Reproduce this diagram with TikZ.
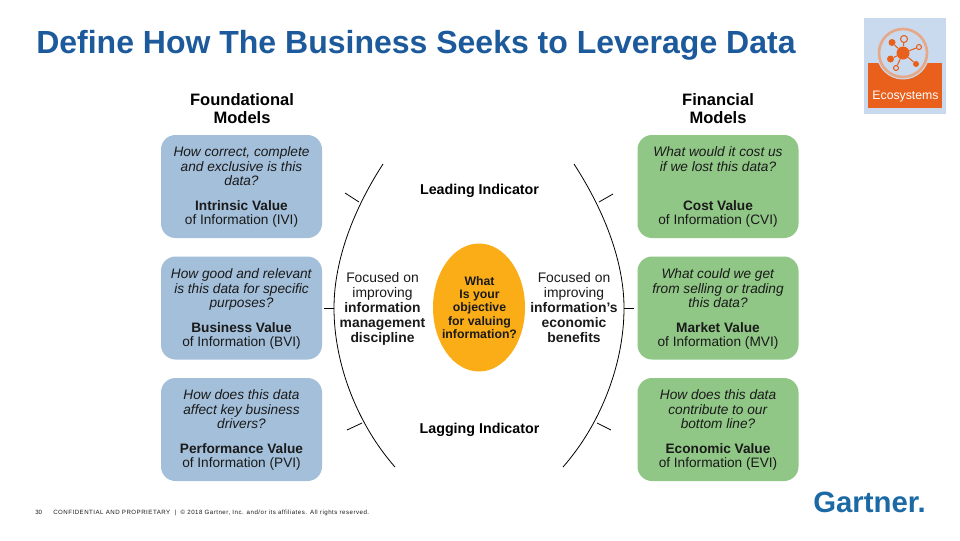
\documentclass[tikz,border=0pt]{standalone}
\usepackage{fontspec}
\usetikzlibrary{shapes.geometric}
\setmainfont{Liberation Sans}
\definecolor{blueb}{HTML}{A3BFDA}
\definecolor{greenb}{HTML}{90C786}
\definecolor{amber}{HTML}{FBAD18}
\definecolor{titleblue}{HTML}{1C5A9C}
\definecolor{logobg}{HTML}{CADAEE}
\definecolor{logoor}{HTML}{E8601C}
\definecolor{logoring}{HTML}{E5A98A}
\definecolor{gblue}{HTML}{1B6AA5}
\definecolor{ink}{HTML}{1A1A1A}
\tikzset{
  valbox/.style={rounded corners=14.5*0.75pt,minimum width=161*0.75pt,minimum height=103*0.75pt,inner sep=0pt,align=center},
  bluebox/.style={valbox,fill=blueb},
  greenbox/.style={valbox,fill=greenb},
  body/.style={font=\fontsize{10.25}{10.9}\selectfont,text=ink,align=center,inner sep=0pt},
  head/.style={font=\fontsize{12.4}{13.5}\selectfont\bfseries,text=black,align=center,inner sep=0pt},
  midtext/.style={font=\fontsize{10.4}{11.25}\selectfont,text=ink,align=center,inner sep=0pt},
  indic/.style={font=\fontsize{10.7}{12}\selectfont\bfseries,text=black,align=center,inner sep=0pt},
  arcline/.style={draw=black,line width=0.6pt},
  tick/.style={draw=black,line width=0.6pt},
  lognode/.style={circle,fill=logoor,inner sep=0pt},
  logring/.style={circle,draw=logoor,fill=logobg,line width=0.8pt,inner sep=0pt},
  logline/.style={draw=logoor,line width=0.8pt},
}
\newcommand{\qa}[1]{\textit{#1}}
\begin{document}
\begin{tikzpicture}[x=0.75pt,y=-0.75pt]
\useasboundingbox (0,0) rectangle (960,540);
\fill[white] (0,0) rectangle (960,540);
% title
\node[anchor=base west,inner sep=0pt,text=titleblue,font=\fontsize{24}{26}\selectfont\bfseries] (title) at (36,53) {Define How The Business Seeks to Leverage Data};
% headers
\node[head] (hl) at (242,109) {Foundational\\Models};
\node[head] (hr) at (718,109) {Financial\\Models};
% left boxes
\node[bluebox] (b1) at (241.5,186.5) {};
\node[bluebox] (b2) at (241.5,308) {};
\node[bluebox] (b3) at (241.5,429.5) {};
\node[greenbox] (g1) at (718,186.5) {};
\node[greenbox] (g2) at (718,308) {};
\node[greenbox] (g3) at (718,429.5) {};
\node[body] (b1q) at (241.5,166.3) {\qa{How correct, complete}\\\qa{and exclusive is this}\\\qa{data?}};
\node[body] (b1v) at (241.5,214) {\textbf{Intrinsic Value}\\of Information (IVI)};
\node[body] (b2q) at (241.5,289.5) {\qa{How good and relevant}\\\qa{is this data for specific}\\\qa{purposes?}};
\node[body] (b2v) at (241.5,336) {\textbf{Business Value}\\of Information (BVI)};
\node[body] (b3q) at (241.5,409.5) {\qa{How does this data}\\\qa{affect key business}\\\qa{drivers?}};
\node[body] (b3v) at (241.5,457) {\textbf{Performance Value}\\of Information (PVI)};
\node[body] (g1q) at (718,159) {\qa{What would it cost us}\\\qa{if we lost this data?}};
\node[body] (g1v) at (718,214) {\textbf{Cost Value}\\of Information (CVI)};
\node[body] (g2q) at (718,288.5) {\qa{What could we get}\\\qa{from selling or trading}\\\qa{this data?}};
\node[body] (g2v) at (718,336) {\textbf{Market Value}\\of Information (MVI)};
\node[body] (g3q) at (718,409.5) {\qa{How does this data}\\\qa{contribute to our}\\\qa{bottom line?}};
\node[body] (g3v) at (718,457) {\textbf{Economic Value}\\of Information (EVI)};
% centre
\node[ellipse,fill=amber,minimum width=92*0.75pt,minimum height=128*0.75pt,inner sep=0pt] (c) at (479,307.5) {};
\node[inner sep=0pt,align=center,text=ink,font=\fontsize{9.2}{10}\selectfont\bfseries] (ct) at (479.5,307.5) {What\\Is your\\objective\\for valuing\\information?};
\node[midtext] (ml) at (382.5,309) {Focused on\\improving\\\textbf{information}\\\textbf{management}\\\textbf{discipline}};
\node[midtext] (mr) at (574,307.5) {Focused on\\improving\\\textbf{information’s}\\\textbf{economic}\\\textbf{benefits}};
\node[indic] (lead) at (479.5,190.5) {Leading Indicator};
\node[indic] (lag) at (479.5,429.5) {Lagging Indicator};
% arcs
\coordinate (la) at (383,164); \coordinate (lm) at (334,308); \coordinate (lb) at (395,467);
\coordinate (ra) at (574,164); \coordinate (rm) at (624,308); \coordinate (rb) at (563,467);
\draw[arcline] (la) .. controls (350,215) and (334,265) .. (lm) .. controls (334,365) and (358,425) .. (lb);
\draw[arcline] (ra) .. controls (607,215) and (624,265) .. (rm) .. controls (624,365) and (600,425) .. (rb);
% ticks
\coordinate (t1a) at (345,193); \coordinate (t1b) at (359,202);
\coordinate (t2a) at (324,308);
\coordinate (t3a) at (347,430); \coordinate (t3b) at (362,423);
\coordinate (t4a) at (613,194); \coordinate (t4b) at (599,202);
\coordinate (t5a) at (634,308);
\coordinate (t6a) at (611,430); \coordinate (t6b) at (597,423);
\draw[tick] (t1a)--(t1b); \draw[tick] (t2a)--(lm); \draw[tick] (t3a)--(t3b);
\draw[tick] (t4a)--(t4b); \draw[tick] (t5a)--(rm); \draw[tick] (t6a)--(t6b);
% footer
\node[anchor=base west,inner sep=0pt,text=ink,font=\fontsize{4.6}{5}\selectfont] (pg) at (35,514) {30};
\node[anchor=base west,inner sep=0pt,text=ink,font=\fontsize{4.6}{5}\selectfont] (ft) at (53,514) {\addfontfeature{LetterSpace=8}CONFIDENTIAL AND PROPRIETARY \ |\ \ © 2018 Gartner, Inc. and/or its affiliates. All rights reserved.};
\node[anchor=base west,inner sep=0pt,text=gblue,font=\fontsize{22}{24}\selectfont\bfseries] (gt) at (813,512) {Gartner.};
% logo
\fill[logobg] (864,18) rectangle (946,114);
\fill[logoor] (868,63) rectangle (942,108);
\fill[logobg] (903,53) circle [radius=26.5];
\draw[logoring,line width=2pt] (903,53) circle [radius=24];
\node[lognode,minimum size=13*0.75pt] (n0) at (903,53) {};
\node[logring,minimum size=7*0.75pt] (n1) at (904,39) {};
\node[lognode,minimum size=7*0.75pt] (n2) at (892,42.5) {};
\node[logring,minimum size=5*0.75pt] (n3) at (919,47) {};
\node[lognode,minimum size=7*0.75pt] (n4) at (890.5,59) {};
\node[lognode,minimum size=6*0.75pt] (n5) at (916,64) {};
\node[logring,minimum size=5*0.75pt] (n6) at (896,68) {};
\foreach \n in {n1,n2,n3,n4,n5,n6} \draw[logline] (n0)--(\n);
\node[inner sep=0pt,text=white,font=\fontsize{9.2}{10}\selectfont] (eco) at (905.5,96.5) {Ecosystems};
\end{tikzpicture}
\end{document}
